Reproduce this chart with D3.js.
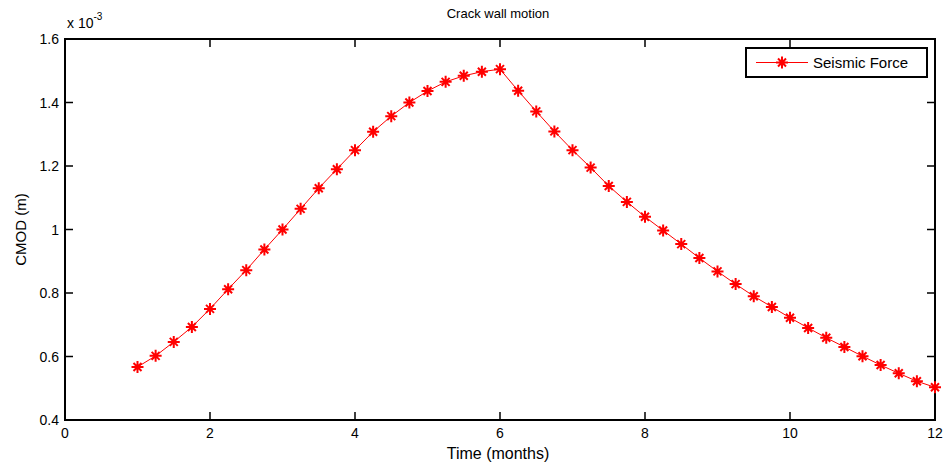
<!DOCTYPE html>
<html>
<head>
<meta charset="utf-8">
<script src="https://cdn.jsdelivr.net/npm/d3@7"></script>
<style>
  body { margin: 0; background: #fff; }
  svg text { font-family: Arial, "Liberation Sans", sans-serif; fill: #000; }
</style>
</head>
<body>
<script>
const months = [1, 1.25, 1.5, 1.75, 2, 2.25, 2.5, 2.75, 3, 3.25, 3.5, 3.75, 4, 4.25, 4.5, 4.75, 5, 5.25, 5.5, 5.75, 6,
    6.25, 6.5, 6.75, 7, 7.25, 7.5, 7.75, 8, 8.25, 8.5, 8.75, 9, 9.25, 9.5, 9.75, 10, 10.25, 10.5, 10.75, 11, 11.25, 11.5, 11.75, 12]
const cmod = [0.567, 0.602, 0.646, 0.693, 0.750, 0.812, 0.872, 0.937, 1.000, 1.065, 1.130, 1.190, 1.250, 1.308, 1.357, 1.400, 1.436, 1.465, 1.484, 1.497, 1.505,
    1.437, 1.372, 1.309, 1.250, 1.195, 1.137, 1.087, 1.040, 0.997, 0.954, 0.910, 0.868, 0.828, 0.790, 0.756, 0.722, 0.690, 0.659, 0.630, 0.601, 0.573, 0.547, 0.522, 0.503]
const xTicks = [0, 2, 4, 6, 8, 10, 12]
const yTicks = [0.4, 0.6, 0.8, 1, 1.2, 1.4, 1.6]
const seriesName = 'Seismic Force'

const w = 945
const h = 469
const pLeft = 65, pRight = 935, pTop = 39, pBottom = 420

const svg = d3.select('body').append('svg')
    .attr('width', w)
    .attr('height', h)

const x = d3.scaleLinear().domain([0, 12]).range([pLeft, pRight])
const y = d3.scaleLinear().domain([0.4, 1.6]).range([pBottom, pTop])

// ticks (inward, on all sides)
const tickLen = 8
svg.selectAll('.xt').data(xTicks).enter().append('path')
    .attr('d', d => `M${x(d)},${pBottom}v${-tickLen}M${x(d)},${pTop}v${tickLen}`)
    .attr('stroke', '#000').attr('stroke-width', 1.5)
svg.selectAll('.yt').data(yTicks).enter().append('path')
    .attr('d', d => `M${pLeft},${y(d)}h${tickLen}M${pRight},${y(d)}h${-tickLen}`)
    .attr('stroke', '#000').attr('stroke-width', 1.5)

svg.append('rect')
    .attr('x', pLeft).attr('y', pTop)
    .attr('width', pRight - pLeft).attr('height', pBottom - pTop)
    .attr('fill', 'none').attr('stroke', '#000').attr('stroke-width', 2)

svg.selectAll('.xl').data(xTicks).enter().append('text')
    .attr('x', d => x(d)).attr('y', pBottom + 18)
    .attr('text-anchor', 'middle').attr('font-size', 14)
    .text(d => d)
svg.selectAll('.yl').data(yTicks).enter().append('text')
    .attr('x', pLeft - 6).attr('y', d => y(d) + 5)
    .attr('text-anchor', 'end').attr('font-size', 14)
    .text(d => d)

const exp = svg.append('text').attr('x', 67).attr('y', 28).attr('font-size', 14)
exp.append('tspan').text('x 10')
exp.append('tspan').attr('dy', -8).attr('font-size', 10).text('-3')

svg.append('text')
    .attr('x', 498).attr('y', 18)
    .attr('text-anchor', 'middle').attr('font-size', 13)
    .text('Crack wall motion')
svg.append('text')
    .attr('x', 498).attr('y', 459)
    .attr('text-anchor', 'middle').attr('font-size', 16)
    .text('Time (months)')
svg.append('text')
    .attr('transform', `translate(26, ${(pTop + pBottom) / 2}) rotate(-90)`)
    .attr('text-anchor', 'middle').attr('font-size', 15)
    .text('CMOD (m)')

const line = d3.line().x((d, i) => x(months[i])).y(d => y(d))
svg.append('path')
    .datum(cmod)
    .attr('d', line)
    .attr('fill', 'none').attr('stroke', '#f00').attr('stroke-width', 1)

const star = 'M-6,0H6M0,-6V6M-4,-4L4,4M-4,4L4,-4'
svg.selectAll('.pt').data(cmod).enter().append('path')
    .attr('transform', (d, i) => `translate(${x(months[i])},${y(d)})`)
    .attr('d', star)
    .attr('stroke', '#f00').attr('stroke-width', 2).attr('fill', 'none')

// legend
const lg = svg.append('g').attr('transform', 'translate(746,48)')
lg.append('rect').attr('width', 181).attr('height', 29)
    .attr('fill', '#fff').attr('stroke', '#000').attr('stroke-width', 2)
lg.append('path').attr('d', 'M10,14.5H62').attr('stroke', '#f00').attr('stroke-width', 1)
lg.append('path').attr('transform', 'translate(36,14.5)').attr('d', star)
    .attr('stroke', '#f00').attr('stroke-width', 2)
lg.append('text').attr('x', 67).attr('y', 20).attr('font-size', 15).text(seriesName)
</script>
</body>
</html>
